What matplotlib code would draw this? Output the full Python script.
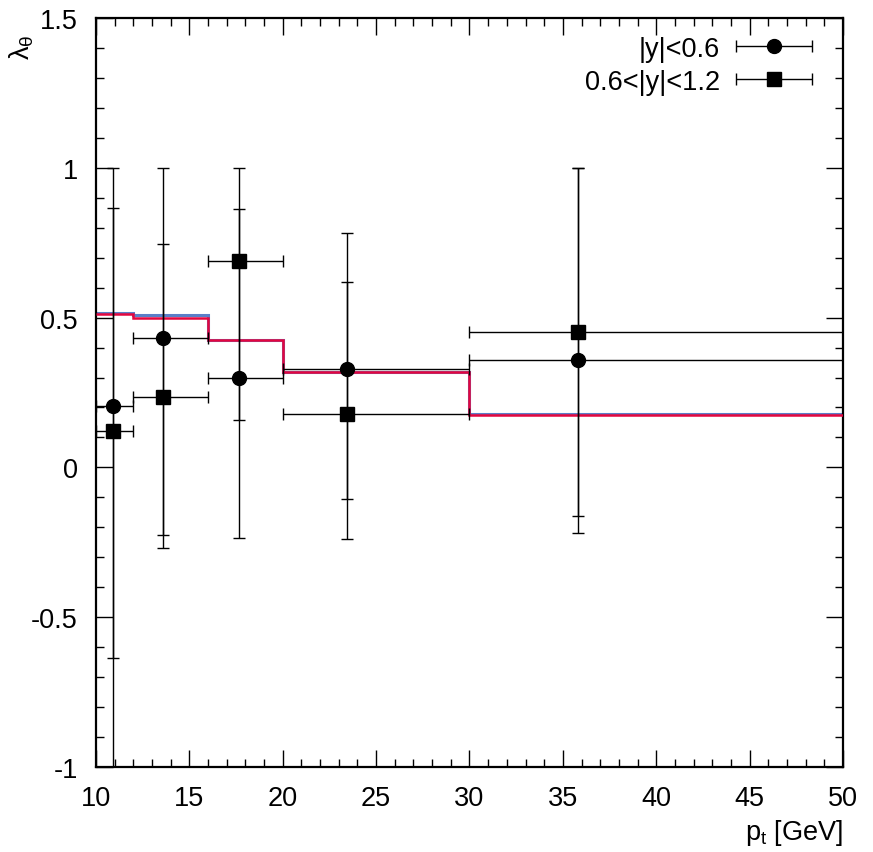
import numpy as np
import matplotlib
matplotlib.use("Agg")
import matplotlib.pyplot as plt
from matplotlib.ticker import MultipleLocator, FormatStrFormatter
from matplotlib.legend_handler import HandlerErrorbar
from matplotlib.container import ErrorbarContainer

plt.rcParams['font.family'] = ['Liberation Sans', 'DejaVu Sans']
plt.rcParams['mathtext.fontset'] = 'custom'
plt.rcParams['mathtext.rm'] = 'Liberation Sans'
plt.rcParams['mathtext.it'] = 'Liberation Sans'
plt.rcParams['axes.unicode_minus'] = False

# pt bins
pt_lo = np.array([10, 12, 16, 20, 30])
pt_hi = np.array([12, 16, 20, 30, 50])
pt = np.array([10.93, 13.60, 17.66, 23.46, 35.79])

# |y| < 0.6
lam_c = np.array([0.205, 0.433, 0.300, 0.327, 0.360])
lam_c_lo = np.array([-1.2, -0.227, -0.234, -0.105, -0.163])
lam_c_hi = np.array([1.0, 1.0, 0.861, 0.783, 1.0])

# 0.6 < |y| < 1.2
lam_s = np.array([0.123, 0.235, 0.688, 0.179, 0.452])
lam_s_lo = np.array([-0.635, -0.268, 0.157, -0.240, -0.218])
lam_s_hi = np.array([0.867, 0.744, 1.0, 0.618, 1.0])

# model curves (step histograms)
edges = [10, 12, 16, 20, 30, 50]
model_blue = [0.516, 0.508, 0.424, 0.320, 0.179]
model_red = [0.512, 0.500, 0.424, 0.318, 0.175]

fig = plt.figure(figsize=(8.73, 8.53), dpi=100)
ax = fig.add_axes([96/873, 1 - 768/853, 747/873, 749/853])

ax.stairs(model_blue, edges, color='#5b7fc8', lw=2.2, baseline=None, zorder=2)
ax.stairs(model_red, edges, color='#e3063f', lw=1.8, baseline=None, zorder=3)

ebkw = dict(ecolor='black', elinewidth=1.0, capsize=4.5, capthick=1.0)

# vertical errors
ax.errorbar(pt, lam_c, yerr=[lam_c - lam_c_lo, lam_c_hi - lam_c], fmt='none', zorder=4, **ebkw)
ax.errorbar(pt, lam_s, yerr=[lam_s - lam_s_lo, lam_s_hi - lam_s], fmt='none', zorder=4, **ebkw)

# horizontal errors + markers
e1 = ax.errorbar(pt, lam_c, xerr=[pt - pt_lo, pt_hi - pt], fmt='o', ms=10, color='black',
                 label='|y|<0.6', zorder=5, **ebkw)
e2 = ax.errorbar(pt, lam_s, xerr=[pt - pt_lo, pt_hi - pt], fmt='s', ms=9.5, color='black',
                 label='0.6<|y|<1.2', zorder=5, **ebkw)

ax.set_xlim(10, 50)
ax.set_ylim(-1, 1.5)

ax.xaxis.set_major_locator(MultipleLocator(5))
ax.xaxis.set_minor_locator(MultipleLocator(1))
ax.yaxis.set_major_locator(MultipleLocator(0.5))
ax.yaxis.set_minor_locator(MultipleLocator(0.1))
ax.yaxis.set_major_formatter(FormatStrFormatter('%g'))

ax.tick_params(which='both', direction='in', top=True, right=True, labelsize=19.5, width=1.0)
ax.tick_params(which='major', length=12)
ax.tick_params(which='minor', length=6)
ax.tick_params(axis='x', pad=13)
ax.tick_params(axis='y', pad=13)
for s in ax.spines.values():
    s.set_linewidth(1.6)

ax.set_xlabel(r'p$_{\mathrm{t}}$ [GeV]', fontsize=19.5, loc='right', labelpad=4)
ax.set_ylabel(r'λ$_{θ}$', fontsize=19.5, rotation=90)
ax.yaxis.set_label_coords(-0.08, 0.962)

leg = ax.legend(handles=[e1, e2], loc='upper right', bbox_to_anchor=(0.9585, 0.976),
                frameon=False, fontsize=19.5, markerfirst=False, handlelength=2.8,
                handletextpad=0.6, borderpad=0, borderaxespad=0, labelspacing=0.25,
                handler_map={ErrorbarContainer: HandlerErrorbar(xerr_size=1.4)})
for t in leg.get_texts():
    t.set_ha('right')

fig.savefig('out.png', dpi=100)
